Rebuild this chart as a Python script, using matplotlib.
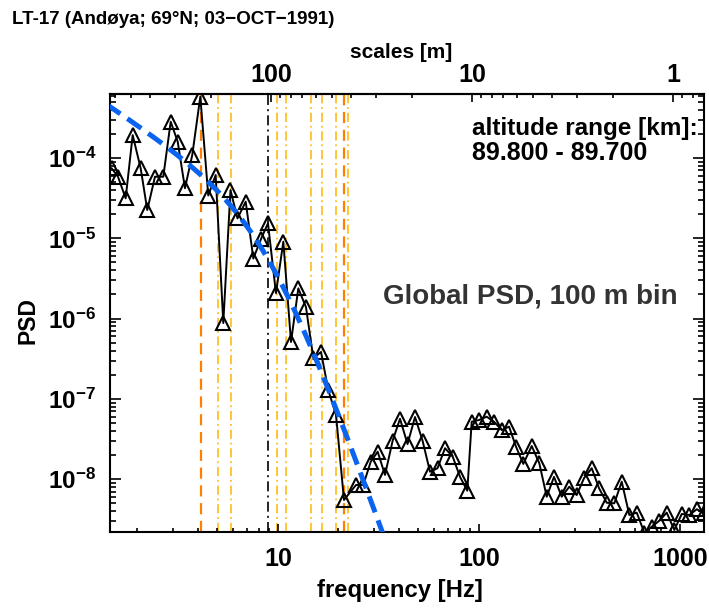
import numpy as np
import matplotlib
matplotlib.use("Agg")
import matplotlib.pyplot as plt
from matplotlib.ticker import FixedLocator, FuncFormatter, NullFormatter, LogLocator

plt.rcParams['font.family'] = ['Liberation Sans', 'DejaVu Sans']
plt.rcParams['font.weight'] = 'bold'
plt.rcParams['mathtext.fontset'] = 'custom'
plt.rcParams['mathtext.rm'] = 'Liberation Sans:bold'
plt.rcParams['mathtext.bf'] = 'Liberation Sans:bold'
plt.rcParams['mathtext.it'] = 'Liberation Sans:bold'
plt.rcParams['mathtext.default'] = 'bf'

# Global PSD, 100 m bin
freq = [1.488, 1.600, 1.747, 1.893, 2.075, 2.238, 2.444, 2.688, 2.926, 3.170,
        3.446, 3.746, 4.107, 4.500, 4.898, 5.345, 5.803, 6.289, 6.909, 7.539,
        8.231, 8.917, 9.772, 10.63, 11.61, 12.62, 13.78, 14.99, 16.37, 17.79,
        19.44, 21.30, 24.44, 26.57, 28.93, 31.33, 34.07, 37.21, 40.46, 44.10,
        48.04, 52.36, 57.05, 62.17, 67.75, 74.00, 80.45, 87.46, 91.96, 100.0,
        109.2, 118.7, 129.7, 141.1, 152.8, 166.1, 182.9, 199.5, 217.2, 236.1,
        257.9, 281.4, 306.3, 333.0, 363.7, 395.5, 431.9, 471.1, 512.9, 559.5,
        609.1, 664.4, 723.3, 788.9, 858.7, 936.7, 1020., 1113., 1211., 1321.]
psd = [7.44e-5, 5.85e-5, 3.15e-5, 1.93e-4, 7.44e-5, 2.25e-5, 5.85e-5, 5.85e-5, 2.83e-4, 1.60e-4,
       4.20e-5, 1.09e-4, 5.80e-4, 3.41e-5, 6.14e-5, 8.81e-7, 3.99e-5, 1.77e-5, 2.86e-5, 5.60e-6,
       9.79e-6, 1.54e-5, 2.07e-6, 9.08e-6, 5.12e-7, 2.38e-6, 1.39e-6, 3.21e-7, 3.84e-7, 1.29e-7,
       6.31e-8, 5.51e-9, 8.47e-9, 8.47e-9, 1.65e-8, 2.20e-8, 1.13e-8, 3.03e-8, 5.66e-8, 2.74e-8,
       5.95e-8, 3.03e-8, 1.24e-8, 1.37e-8, 2.43e-8, 1.91e-8, 1.07e-8, 7.19e-9, 5.20e-8, 5.46e-8,
       6.00e-8, 5.20e-8, 4.10e-8, 4.51e-8, 2.54e-8, 1.55e-8, 2.59e-8, 1.58e-8, 6.05e-9, 1.07e-8,
       6.05e-9, 8.07e-9, 6.35e-9, 1.03e-8, 1.37e-8, 7.71e-9, 5.09e-9, 5.01e-9, 9.31e-9, 3.58e-9,
       3.83e-9, 2.16e-9, 2.56e-9, 3.04e-9, 3.83e-9, 2.33e-9, 3.69e-9, 3.58e-9, 4.22e-9, 3.76e-9]

# Heisenberg model fit: P(f) = A f^(-5/3) [1 + (f/f0)^(8/3)]^(-2)
fit_amp = 10 ** -3.080
fit_f0 = 8.97

# marker frequencies
vline_orange = [4.12, 21.30]
vline_amber = [5.03, 5.82, 9.89, 10.90, 14.68, 16.50, 19.37, 22.30]
vline_black = [8.97]

# rocket speed used to convert frequency to spatial scale [m/s]
rocket_speed = 925.0

top_major = [1, 10, 100]
top_minor = [0.7, 0.8, 0.9, 2, 3, 4, 5, 6, 7, 8, 9,
             20, 30, 40, 50, 60, 70, 80, 90, 200, 300, 400, 500, 600]

W, H = 709, 609
fig = plt.figure(figsize=(W / 100, H / 100), dpi=100)
ax_l, ax_r, ax_t, ax_b = 110, 704, 94, 532
ax = fig.add_axes([ax_l / W, 1 - ax_b / H, (ax_r - ax_l) / W, (ax_b - ax_t) / H])
ax.set_xscale('log')
ax.set_yscale('log')
ax.set_xlim(1.46, 1316)
ax.set_ylim(2.2e-9, 6.27e-4)

for f in vline_orange:
    ax.axvline(f, color='#ff8000', lw=1.6, dashes=(5, 3), zorder=1)
for f in vline_amber:
    ax.axvline(f, color='#ffb400', lw=1.1, dashes=(6, 2.5, 1.2, 2.5), zorder=1)
for f in vline_black:
    ax.axvline(f, color='black', lw=1.2, dashes=(6, 2.5, 1.2, 2.5), zorder=1)

ax.plot(freq, psd, color='black', lw=1.4, marker='^', ms=9.5, mfc='none',
        mec='black', mew=1.5, zorder=3)

fm = np.geomspace(1.4, 45, 300)
model = fit_amp * fm ** (-5 / 3) * (1 + (fm / fit_f0) ** (8 / 3)) ** -2
ax.plot(fm, model, color='#0a64f0', lw=3.6, dashes=(3.4, 1.7), zorder=4)

for sp in ax.spines.values():
    sp.set_linewidth(1.5)

ax.tick_params(axis='x', which='major', direction='in', length=6, width=1.2,
               labelsize=18, pad=11, top=False)
ax.tick_params(axis='x', which='minor', direction='in', length=3, width=1.2, top=False)
ax.tick_params(axis='y', which='major', direction='in', length=8, width=1.2,
               labelsize=17.5, pad=10, right=True)
ax.tick_params(axis='y', which='minor', direction='in', length=4, width=1.2, right=True)
ax.xaxis.set_major_formatter(FuncFormatter(lambda v, p: f"{v:g}"))
ax.xaxis.set_minor_formatter(NullFormatter())
ax.yaxis.set_major_locator(LogLocator(base=10, numticks=20))
ax.yaxis.set_minor_locator(LogLocator(base=10, subs=np.arange(2, 10), numticks=20))
ax.yaxis.set_major_formatter(FuncFormatter(
    lambda v, p: r"$\mathbf{10^{%d}}$" % int(round(np.log10(v)))))
ax.yaxis.set_minor_formatter(NullFormatter())

sec = ax.secondary_xaxis('top', functions=(lambda f: rocket_speed / f,
                                           lambda s: rocket_speed / s))
sec.xaxis.set_major_locator(FixedLocator(top_major))
sec.xaxis.set_minor_locator(FixedLocator(top_minor))
sec.xaxis.set_major_formatter(FuncFormatter(lambda v, p: f"{v:g}"))
sec.xaxis.set_minor_formatter(NullFormatter())
sec.tick_params(which='major', direction='in', length=6, width=1.2, labelsize=18, pad=5)
sec.tick_params(which='minor', direction='in', length=3, width=1.2)
sec.spines['top'].set_linewidth(1.5)

def ftext(x, y, s, **kw):
    fig.text(x / W, 1 - y / H, s, fontweight='bold', **kw)

ftext(12, 19, "LT-17 (Andøya; 69°N; 03\u2212OCT\u22121991)", fontsize=13.5,
      ha='left', va='center')
ftext(401, 52, "scales [m]", fontsize=15, ha='center', va='center')
ftext(400, 590, "frequency [Hz]", fontsize=17.2, ha='center', va='center')
ftext(28, 321, "PSD", fontsize=16.5, ha='center', va='center', rotation=90)
ftext(472, 128, "altitude range [km]:", fontsize=17.5, ha='left', va='center')
ftext(472, 153, "89.800 - 89.700", fontsize=18, ha='left', va='center')
ftext(383, 297, "Global PSD, 100 m bin", fontsize=20, ha='left', va='center',
      color='#333333')

fig.savefig("out.png", dpi=100)
